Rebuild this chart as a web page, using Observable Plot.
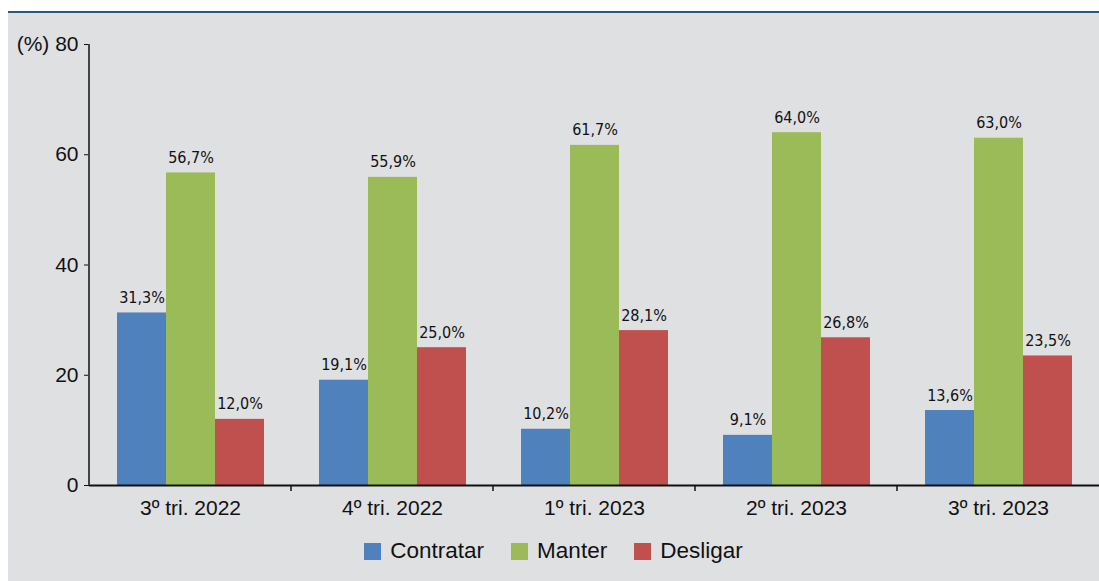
<!DOCTYPE html>
<html>
<head>
<meta charset="utf-8">
<script src="https://cdn.jsdelivr.net/npm/d3@7"></script>
<script src="https://cdn.jsdelivr.net/npm/@observablehq/plot@0.6"></script>
<style>
  html, body { margin: 0; padding: 0; background: #ffffff; }
  #panel {
    position: absolute; left: 8px; top: 11px; width: 1091px; height: 570px;
    background: #dfe0e2; border-top: 2.5px solid #2e5a80;
    font-family: "Liberation Sans", Arial, sans-serif;
    overflow: hidden;
  }
  #legend {
    position: absolute; left: 0; top: 525px; width: 1091px;
    display: flex; justify-content: center; gap: 27px;
    font-size: 22.5px; color: #111;
  }
  #legend .item { display: flex; align-items: center; }
  #legend .sw { width: 17px; height: 17px; margin-right: 9px; display: inline-block; }
</style>
</head>
<body>
<div id="panel"><div id="chart"></div><div id="legend"></div></div>
<script>
const categories = ["3º tri. 2022", "4º tri. 2022", "1º tri. 2023", "2º tri. 2023", "3º tri. 2023"];
const series = ["Contratar", "Manter", "Desligar"];
const contratar = [31.3, 19.1, 10.2, 9.1, 13.6];
const manter = [56.7, 55.9, 61.7, 64.0, 63.0];
const desligar = [12.0, 25.0, 28.1, 26.8, 23.5];
const colors = ["#4f81bd", "#9bbb59", "#c0504d"];
const yTicks = [0, 20, 40, 60, 80];

const valuesBySeries = [contratar, manter, desligar];
const data = [];
categories.forEach((c, i) => {
  series.forEach((s, j) => data.push({cat: c, serie: s, value: valuesBySeries[j][i]}));
});

const fmt = v => v.toFixed(1).replace(".", ",") + "%";

const plot = Plot.plot({
  width: 1091,
  height: 512,
  marginLeft: 81,
  marginRight: 0,
  marginTop: 31,
  marginBottom: 40,
  style: {background: "transparent", fontSize: "21px", fontFamily: "'Liberation Sans', Arial, sans-serif", color: "#111"},
  fx: {domain: categories, padding: 0, label: null, tickSize: 0, tickPadding: 15},
  x: {domain: series, paddingInner: 0, paddingOuter: 0.56, axis: null},
  y: {domain: [0, 80], ticks: yTicks, tickSize: 5, tickPadding: 6, label: null,
      tickFormat: d => d === 80 ? "(%) 80" : String(d)},
  color: {domain: series, range: colors},
  marks: [
    Plot.barY(data, {fx: "cat", x: "serie", y: "value", fill: "serie"}),
    Plot.text(data, {fx: "cat", x: "serie", y: "value", text: d => fmt(d.value),
      lineAnchor: "bottom", dy: -10, fontSize: 16, fill: "#111",
      fontFamily: "'Liberation Sans Narrow', 'DejaVu Sans Condensed', sans-serif"}),
    Plot.ruleY([0], {stroke: "#111", strokeWidth: 2})
  ]
});

const svg = d3.select(plot.tagName.toLowerCase() === "svg" ? plot : plot.querySelector("svg"));
const fxs = plot.scale("fx");
const ys = plot.scale("y");
const y0 = ys.apply(0);
const yTop = ys.apply(80);
const xLeft = fxs.apply(categories[0]);
// y-axis line
svg.append("line").attr("x1", xLeft).attr("x2", xLeft).attr("y1", yTop).attr("y2", y0)
  .attr("stroke", "#444").attr("stroke-width", 2);
// category boundary ticks
categories.slice(1).forEach(c => {
  const bx = fxs.apply(c);
  svg.append("line").attr("x1", bx).attr("x2", bx).attr("y1", y0).attr("y2", y0 + 6)
    .attr("stroke", "#111").attr("stroke-width", 1.5);
});

document.getElementById("chart").appendChild(plot);

const legend = document.getElementById("legend");
series.forEach((s, i) => {
  const it = document.createElement("div");
  it.className = "item";
  it.innerHTML = `<span class="sw" style="background:${colors[i]}"></span><span>${s}</span>`;
  legend.appendChild(it);
});
</script>
</body>
</html>
